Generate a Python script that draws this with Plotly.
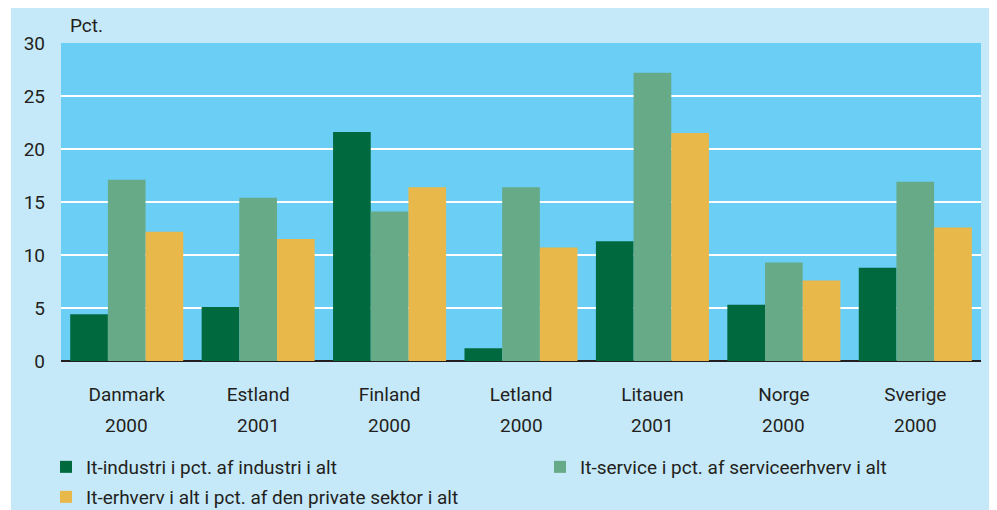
import plotly.graph_objects as go

countries = ["Danmark", "Estland", "Finland", "Letland", "Litauen", "Norge", "Sverige"]
years = ["2000", "2001", "2000", "2000", "2001", "2000", "2000"]
series_names = [
    "It-industri i pct. af industri i alt",
    "It-service i pct. af serviceerhverv i alt",
    "It-erhverv i alt i pct. af den private sektor i alt",
]
it_industri = [4.4, 5.1, 21.6, 1.2, 11.3, 5.3, 8.8]
it_service = [17.1, 15.4, 14.1, 16.4, 27.2, 9.3, 16.9]
it_erhverv = [12.2, 11.5, 16.4, 10.7, 21.5, 7.6, 12.6]
colors = ["#00693E", "#66AA88", "#E8B84B"]
y_ticks = [0, 5, 10, 15, 20, 25, 30]

FONT = "Roboto"
FS = 19
TXT = "#231F20"

legend_ids = ["legend", "legend2", "legend3"]

fig = go.Figure()
for name, vals, c, lg in zip(series_names, [it_industri, it_service, it_erhverv], colors, legend_ids):
    fig.add_trace(go.Bar(x=countries, y=vals, name=name, marker_color=c,
                         marker_line_width=0, legend=lg))

# page is drawn with an 8px offset; coordinates below are screen pixels
OFF = 8
W, H = 997, 510
L, T = 61 - OFF, 43 - OFF
R = W - (981 - OFF)
B = H - (361 - OFF)
pw, ph = W - L - R, H - T - B

def px_x(px):
    return (px - OFF - L) / pw

def px_y(py):
    return (H - B - (py - OFF)) / ph

def cont_y(py):
    return 1 - (py - OFF) / H

legend_common = dict(
    orientation="h",
    xref="paper", yref="container",
    xanchor="left", yanchor="middle",
    font=dict(family=FONT, size=FS, color=TXT),
    bgcolor="rgba(0,0,0,0)",
    itemwidth=30,
)

fig.update_layout(
    width=W, height=H,
    margin=dict(l=L, r=R, t=T, b=B, autoexpand=False),
    paper_bgcolor="white",
    plot_bgcolor="rgba(0,0,0,0)",
    barmode="group",
    bargap=0.14,
    bargroupgap=0,
    font=dict(family=FONT, size=FS, color=TXT),
    showlegend=True,
    legend=dict(legend_common, x=px_x(46), y=cont_y(467)),
    legend2=dict(legend_common, x=px_x(540), y=cont_y(467)),
    legend3=dict(legend_common, x=px_x(46), y=cont_y(497)),
    xaxis=dict(
        showgrid=False, showline=False, zeroline=False,
        tickfont=dict(family=FONT, size=FS, color=TXT),
        ticks="", ticklabelstandoff=20,
    ),
    yaxis=dict(
        range=[0, 30], tickvals=y_ticks,
        showgrid=True, gridcolor="white", gridwidth=2,
        zeroline=True, zerolinecolor=TXT, zerolinewidth=2,
        showline=False, ticks="", ticklabelstandoff=15,
        tickfont=dict(family=FONT, size=FS, color=TXT),
    ),
    shapes=[
        dict(type="rect", xref="paper", yref="paper", layer="below",
             x0=px_x(11), x1=px_x(995), y0=px_y(530), y1=px_y(0),
             fillcolor="#C6E9F9", line_width=0),
        dict(type="rect", xref="paper", yref="paper", layer="below",
             x0=0, x1=1, y0=0, y1=1,
             fillcolor="#6BCEF5", line_width=0),
    ],
    annotations=[
        dict(text="Pct.", xref="paper", yref="paper", x=px_x(68), y=px_y(26),
             xanchor="left", yanchor="middle", showarrow=False,
             font=dict(family=FONT, size=FS, color=TXT)),
    ] + [
        dict(text=yr, xref="x", yref="paper", x=c, y=px_y(425),
             xanchor="center", yanchor="middle", showarrow=False,
             font=dict(family=FONT, size=FS, color=TXT))
        for c, yr in zip(countries, years)
    ],
)

fig.write_html("out.html")
